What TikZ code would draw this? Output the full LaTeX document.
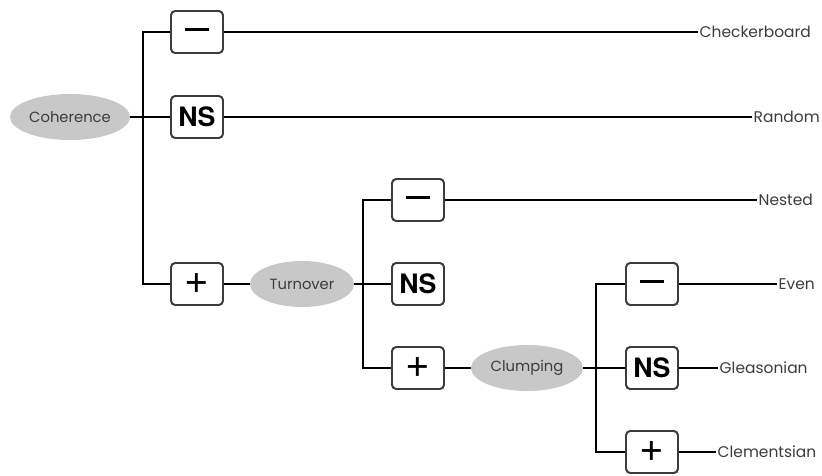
\documentclass[tikz,border=0pt]{standalone}
\usepackage{fontspec}
\setmainfont{Poppins}
\newfontfamily\boxfont{TeX Gyre Heros}
\usepackage{tikz}
\usetikzlibrary{positioning}
\usetikzlibrary{shapes.geometric}
\definecolor{blobgray}{HTML}{C8C8C8}
\definecolor{inkgray}{HTML}{3C3C3C}
\tikzset{factor/.style={ellipse, fill=blobgray, text=inkgray, minimum width=2.75cm, minimum height=1.15cm, inner sep=0pt, font=\fontsize{10.5}{12}\selectfont}}
\tikzset{sign/.style={draw=inkgray, line width=1.4pt, rounded corners=3pt, fill=white, minimum width=1.3cm, minimum height=1.05cm, inner sep=0pt, font=\boxfont\bfseries\fontsize{19}{20}\selectfont}}
\tikzset{outcome/.style={anchor=west, inner sep=1pt, text=inkgray, font=\fontsize{11}{13}\selectfont}}
\tikzset{wire/.style={line width=2.1pt}}
\newcommand{\minusbar}{\rule[0.35ex]{0.62cm}{2.2pt}}
\newcommand{\plussign}{\fontseries{m}\fontsize{30}{30}\selectfont\raisebox{0.05ex}{+}}

\begin{document}
\begin{tikzpicture}[x=0.025cm, y=-0.025cm]
\useasboundingbox (0,0) rectangle (822,475);

% first split
\node[factor, minimum width=3cm] (coh) at (70,117) {Coherence};
\node[sign] (c1) at (197,32) {\minusbar};
\node[sign] (c2) at (197,117) {NS};
\node[sign] (c3) at (197,284) {\plussign};
\coordinate (j1) at (143,117);

% second split
\node[factor, minimum width=2.6cm] (turn) at (302,284) {Turnover};
\node[sign] (t1) at (418,200) {\minusbar};
\node[sign] (t2) at (418,284) {NS};
\node[sign] (t3) at (418,368) {\plussign};
\coordinate (j2) at (363,284);

% third split
\node[factor, minimum width=2.8cm] (clump) at (527,368) {Clumping};
\node[sign] (k1) at (652,284) {\minusbar};
\node[sign] (k2) at (652,368) {NS};
\node[sign] (k3) at (652,452) {\plussign};
\coordinate (j3) at (596,368);

% outcomes
\coordinate (e1) at (698,32);
\coordinate (e2) at (752,117);
\coordinate (e3) at (757,200);
\coordinate (e4) at (777,284);
\coordinate (e5) at (718,368);
\coordinate (e6) at (716,452);
\node[outcome] (checker) at (e1) {Checkerboard};
\node[outcome] (random) at (e2) {Random};
\node[outcome] (nested) at (e3) {Nested};
\node[outcome] (even) at (e4) {Even};
\node[outcome] (gleason) at (e5) {Gleasonian};
\node[outcome] (clement) at (e6) {Clementsian};

\draw[wire] (coh) -- (c2);
\draw[wire] (c1.west) -| (j1) |- (c3.west);
\draw[wire] (c3) -- (turn);
\draw[wire] (turn) -- (t2);
\draw[wire] (t1.west) -| (j2) |- (t3.west);
\draw[wire] (t3) -- (clump);
\draw[wire] (clump) -- (k2);
\draw[wire] (k1.west) -| (j3) |- (k3.west);
\draw[wire] (c1) -- (checker);
\draw[wire] (c2) -- (random);
\draw[wire] (t1) -- (nested);
\draw[wire] (k1) -- (even);
\draw[wire] (k2) -- (gleason);
\draw[wire] (k3) -- (clement);
\end{tikzpicture}
\end{document}
